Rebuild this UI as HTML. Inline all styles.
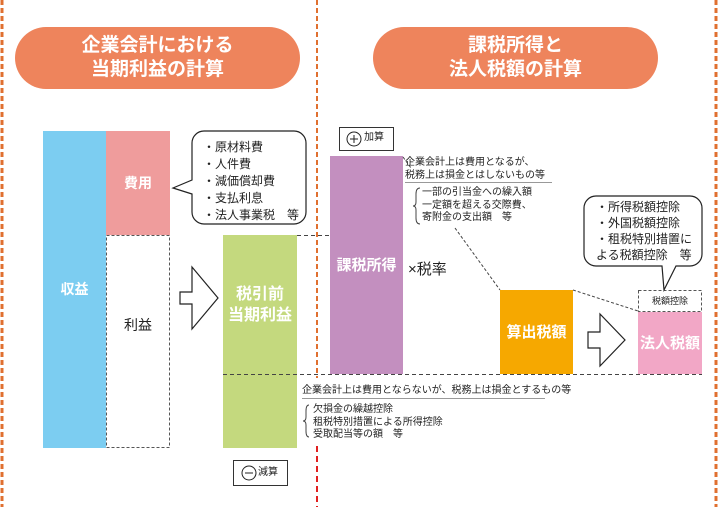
<!DOCTYPE html>
<html><head><meta charset="utf-8"><style>
body{margin:0;width:720px;height:507px;background:#fff;position:relative;overflow:hidden;font-family:"Liberation Sans","Noto Sans CJK JP",sans-serif;}
.a{position:absolute;box-sizing:border-box;}
.pill{background:#ee845c;border-radius:31px;color:#fff;font-size:19px;line-height:24px;text-align:center;padding-top:7px;font-weight:bold}
.w{color:#fff;font-weight:bold;display:flex;align-items:center;justify-content:center;text-align:center;font-size:16px;line-height:21px}
.t{font-size:10px;line-height:12.5px;color:#222;white-space:nowrap}
.c{font-size:12px;line-height:17px;color:#222;white-space:nowrap}
</style></head><body>
<svg class="a" style="left:0;top:0" width="720" height="507">
<line x1="2" y1="0" x2="2" y2="507" stroke="#e07030" stroke-width="3" stroke-dasharray="5,3"/>
<line x1="716" y1="0" x2="716" y2="507" stroke="#e07030" stroke-width="3" stroke-dasharray="5,3"/>
<line x1="317" y1="0" x2="317" y2="378" stroke="#e07030" stroke-width="2" stroke-dasharray="5,3"/>
<line x1="317" y1="446" x2="317" y2="507" stroke="#e02020" stroke-width="2" stroke-dasharray="6,4"/>
<rect x="43" y="131" width="63" height="317" fill="#7ccdf1"/>
<rect x="106" y="131" width="64" height="104" fill="#ef9c9c"/>
<rect x="106.5" y="235.5" width="63" height="212" fill="none" stroke="#555" stroke-dasharray="3,2"/>
<rect x="223" y="235" width="74" height="213" fill="#c4d97e"/>
<rect x="330" y="156" width="73" height="218" fill="#c38fbf"/>
<rect x="500" y="290" width="73" height="84" fill="#f6a800"/>
<rect x="638" y="312" width="64" height="62" fill="#f2a7c6"/>
<rect x="638.5" y="290.5" width="63" height="21" fill="#fff" stroke="#555" stroke-dasharray="3,2"/>
<line x1="297" y1="235.5" x2="330" y2="235.5" stroke="#444" stroke-dasharray="4,3"/>
<line x1="223" y1="374.5" x2="702" y2="374.5" stroke="#444" stroke-dasharray="4,3"/>
<line x1="403" y1="157" x2="411" y2="168" stroke="#444" stroke-dasharray="3,2"/>
<line x1="455" y1="228" x2="500" y2="290" stroke="#444" stroke-dasharray="3,2"/>
<line x1="573" y1="290" x2="638" y2="311" stroke="#444" stroke-dasharray="3,2"/>
<path d="M180 297h12v-25l26 31-26 31v-25h-12z" transform="translate(0,-5)" fill="#fff" stroke="#222" stroke-width="1.2"/>
<path d="M588 322h12v-18l25 26-25 26v-18h-12z" transform="translate(0,10)" fill="#fff" stroke="#222" stroke-width="1.2"/>
<path d="M204 131h90a12 12 0 0 1 12 12v69a12 12 0 0 1-12 12h-90a12 12 0 0 1-12-12v-18l-19-6 19-8v-37a12 12 0 0 1 12-12z" fill="#fff" stroke="#222" stroke-width="1.2"/>
<path d="M596 196h94a12 12 0 0 1 12 12v46a12 12 0 0 1-12 12h-14l-12 24-2-24h-66a12 12 0 0 1-12-12v-46a12 12 0 0 1 12-12z" fill="#fff" stroke="#222" stroke-width="1.2"/>
<rect x="339.5" y="127.5" width="54" height="23" fill="#fff" stroke="#333"/>
<circle cx="354" cy="139" r="7" fill="none" stroke="#222"/><path d="M350 139h8M354 135v8" stroke="#222"/>
<rect x="233.5" y="460.5" width="54" height="25" fill="#fff" stroke="#333"/>
<circle cx="249" cy="473" r="7" fill="none" stroke="#222"/><path d="M245 473h8" stroke="#222"/>
<line x1="405" y1="182.5" x2="552" y2="182.5" stroke="#999"/>
<line x1="302" y1="398.5" x2="545" y2="398.5" stroke="#999"/>
<path d="M420 188q-4 0-4 6v8q0 4-3 4q3 0 3 4v8q0 6 4 6" fill="none" stroke="#444"/>
<path d="M309 405q-3 0-3 6v6q0 4-3 4q3 0 3 4v6q0 6 3 6" fill="none" stroke="#444"/>
</svg>
<div class="a pill" style="left:15px;top:27px;width:285px;height:62px">企業会計における<br>当期利益の計算</div>
<div class="a pill" style="left:373px;top:27px;width:285px;height:62px">課税所得と<br>法人税額の計算</div>
<div class="a w" style="left:43px;top:131px;width:63px;height:317px;font-size:14px">収益</div>
<div class="a w" style="left:106px;top:131px;width:64px;height:104px;font-size:14px">費用</div>
<div class="a w" style="left:106px;top:235px;width:64px;height:180px;color:#222;font-size:14px;font-weight:normal">利益</div>
<div class="a w" style="left:223px;top:235px;width:74px;height:140px">税引前<br>当期利益</div>
<div class="a w" style="left:330px;top:156px;width:73px;height:218px;font-size:15px">課税所得</div>
<div class="a w" style="left:500px;top:290px;width:73px;height:84px;font-size:15px">算出税額</div>
<div class="a w" style="left:638px;top:312px;width:64px;height:62px;font-size:15px">法人税額</div>
<div class="a t" style="left:638px;top:295px;width:64px;text-align:center;font-size:9px">税額控除</div>
<div class="a" style="left:408px;top:258px;font-size:15px;color:#222">×税率</div>
<div class="a t" style="left:364px;top:132px">加算</div>
<div class="a t" style="left:258px;top:467px">減算</div>
<div class="a c" style="left:203px;top:139px">・原材料費<br>・人件費<br>・減価償却費<br>・支払利息<br>・法人事業税　等</div>
<div class="a c" style="left:596px;top:199px;line-height:16px">・所得税額控除<br>・外国税額控除<br>・租税特別措置に<br>よる税額控除　等</div>
<div class="a t" style="left:405px;top:157px">企業会計上は費用となるが、<br>税務上は損金とはしないもの等</div>
<div class="a t" style="left:422px;top:187px">一部の引当金への繰入額<br>一定額を超える交際費、<br>寄附金の支出額　等</div>
<div class="a t" style="left:302px;top:385px">企業会計上は費用とならないが、税務上は損金とするもの等</div>
<div class="a t" style="left:313px;top:404px">欠損金の繰越控除<br>租税特別措置による所得控除<br>受取配当等の額　等</div>
</body></html>
